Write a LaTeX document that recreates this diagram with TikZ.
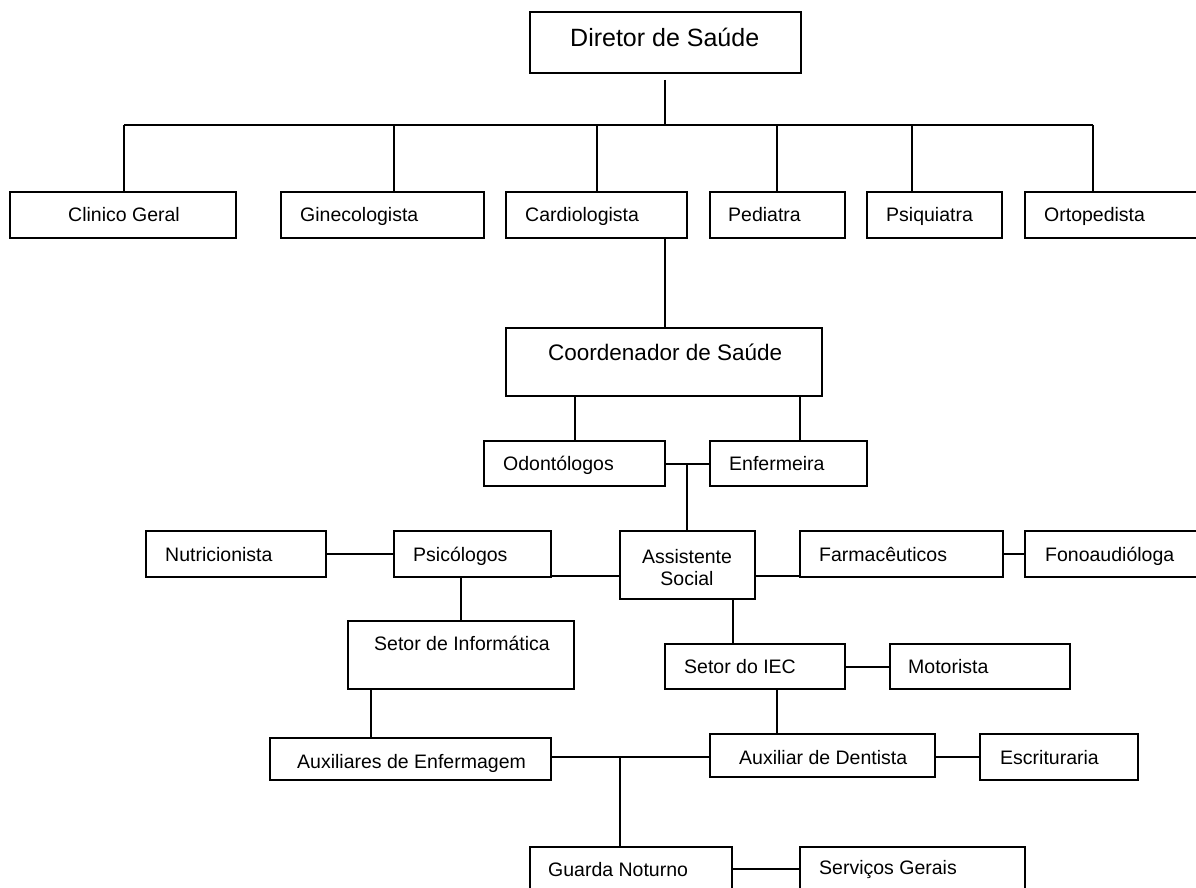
\documentclass[tikz,border=0pt]{standalone}
\usepackage{fontspec}
\setmainfont{Liberation Sans}
\begin{document}
\begin{tikzpicture}[x=1pt,y=-1pt,
  boxst/.style={draw=black,line width=1.5pt,inner sep=0pt,outer sep=0pt},
  lbl/.style={inner sep=0pt,anchor=mid west,yshift=-5pt,font=\fontsize{19.5}{22}\selectfont},
  conn/.style={line width=1.3pt}]
\useasboundingbox (0,0) rectangle (1196,888);
\clip (0,0) rectangle (1196,888);
% box macro: name, x1, y1, x2, y2
\newcommand\mybox[5]{\node[boxst,minimum width={#4-#2},minimum height={#5-#3}] (#1) at ({(#2+#4)/2},{(#3+#5)/2}) {};}
% boxes
\mybox{dir}{530}{12}{801}{73}
\mybox{cli}{10}{192}{236}{238}
\mybox{gin}{281}{192}{484}{238}
\mybox{car}{506}{192}{687}{238}
\mybox{ped}{710}{192}{845}{238}
\mybox{psq}{867}{192}{1002}{238}
\mybox{ort}{1025}{192}{1220}{238}
\mybox{coo}{506}{328}{822}{396}
\mybox{odo}{484}{441}{665}{486}
\mybox{enf}{710}{441}{867}{486}
\mybox{nut}{146}{531}{326}{577}
\mybox{psi}{394}{531}{551}{577}
\mybox{ass}{620}{531}{755}{599}
\mybox{far}{800}{531}{1003}{577}
\mybox{fon}{1025}{531}{1220}{577}
\mybox{inf}{348}{621}{574}{689}
\mybox{iec}{665}{644}{845}{689}
\mybox{mot}{890}{644}{1070}{689}
\mybox{aen}{270}{738}{551}{780}
\mybox{ade}{710}{734}{935}{777}
\mybox{esc}{980}{734}{1138}{780}
\mybox{gua}{530}{847}{732}{905}
\mybox{ser}{800}{847}{1025}{905}
% labels
\node[lbl,font=\fontsize{25}{28}\selectfont] (tdir) at (570,39) {Diretor de Saúde};
\node[lbl] (tcli) at (68,214) {Clinico Geral};
\node[lbl] (tgin) at (300,214) {Ginecologista};
\node[lbl] (tcar) at (525,214) {Cardiologista};
\node[lbl] (tped) at (728,214) {Pediatra};
\node[lbl] (tpsq) at (886,214) {Psiquiatra};
\node[lbl] (tort) at (1044,214) {Ortopedista};
\node[lbl,font=\fontsize{22.5}{26}\selectfont] (tcoo) at (548,353) {Coordenador de Saúde};
\node[lbl] (todo) at (503,463) {Odontólogos};
\node[lbl] (tenf) at (729,463) {Enfermeira};
\node[lbl] (tnut) at (165,554) {Nutricionista};
\node[lbl] (tpsi) at (413,554) {Psicólogos};
\node[lbl,anchor=center] (tass1) at (687,552) {Assistente};
\node[lbl,anchor=center] (tass2) at (687,574) {Social};
\node[lbl] (tfar) at (819,554) {Farmacêuticos};
\node[lbl] (tfon) at (1045,554) {Fonoaudióloga};
\node[lbl] (tinf) at (374,643) {Setor de Informática};
\node[lbl] (tiec) at (684,666) {Setor do IEC};
\node[lbl] (tmot) at (908,666) {Motorista};
\node[lbl] (taen) at (297,761) {Auxiliares de Enfermagem};
\node[lbl] (tade) at (739,757) {Auxiliar de Dentista};
\node[lbl] (tesc) at (1000,757) {Escrituraria};
\node[lbl] (tgua) at (548,869) {Guarda Noturno};
\node[lbl] (tser) at (819,867) {Serviços Gerais};
% connectors
\coordinate (hub) at (665,125);
\draw[conn] (665,80) -- (hub);
\draw[conn] (124,125) -- (1093,125);
\draw[conn] (124,125) -- (cli.north -| 124,0);
\draw[conn] (394,125) -- (gin.north -| 394,0);
\draw[conn] (597,125) -- (car.north -| 597,0);
\draw[conn] (777,125) -- (ped.north -| 777,0);
\draw[conn] (912,125) -- (psq.north -| 912,0);
\draw[conn] (1093,125) -- (ort.north -| 1093,0);
\draw[conn] (car.south -| 665,0) -- (coo.north -| 665,0);
\draw[conn] (coo.south -| 575,0) -- (odo.north -| 575,0);
\draw[conn] (coo.south -| 800,0) -- (enf.north -| 800,0);
\draw[conn] (odo.east |- 0,464) -- (enf.west |- 0,464);
\draw[conn] (687,464) -- (ass.north -| 687,0);
\draw[conn] (nut.east |- 0,554) -- (psi.west |- 0,554);
\draw[conn] (far.east |- 0,554) -- (fon.west |- 0,554);
\draw[conn] (psi.east |- 0,576) -- (ass.west |- 0,576);
\draw[conn] (ass.east |- 0,576) -- (far.west |- 0,576);
\draw[conn] (psi.south -| 461,0) -- (inf.north -| 461,0);
\draw[conn] (ass.south -| 733,0) -- (iec.north -| 733,0);
\draw[conn] (iec.east |- 0,667) -- (mot.west |- 0,667);
\draw[conn] (inf.south -| 371,0) -- (aen.north -| 371,0);
\draw[conn] (iec.south -| 777,0) -- (ade.north -| 777,0);
\draw[conn] (aen.east |- 0,757) -- (ade.west |- 0,757);
\draw[conn] (ade.east |- 0,757) -- (esc.west |- 0,757);
\draw[conn] (620,757) -- (gua.north -| 620,0);
\draw[conn] (gua.east |- 0,869) -- (ser.west |- 0,869);
\end{tikzpicture}
\end{document}
